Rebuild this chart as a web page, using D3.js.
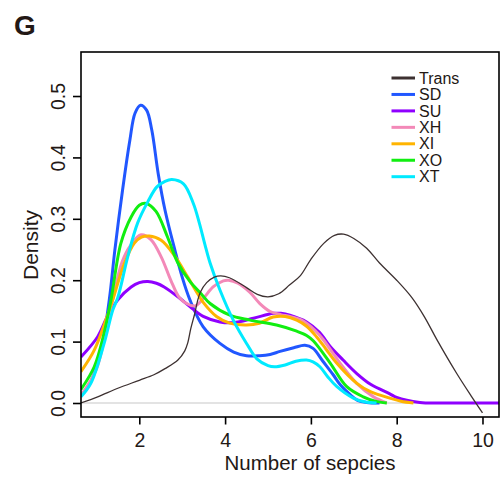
<!DOCTYPE html>
<html><head><meta charset="utf-8">
<script src="https://cdn.jsdelivr.net/npm/d3@7/dist/d3.min.js"></script>
<style>
html,body{margin:0;padding:0;background:#fff;}
svg{display:block;}
text{font-family:"Liberation Sans",Arial,sans-serif;fill:#231815;}
</style></head>
<body>
<script>
const seriesNames = ["Trans","SD","SU","XH","XI","XO","XT"];
const seriesColors = ["#3d3131","#2157ff","#8f00ff","#f389b8","#ffb400","#11ee11","#00eaff"];
const xTicks = [2,4,6,8,10];
const yTicks = [0.0,0.1,0.2,0.3,0.4,0.5];
const yTickLabels = ["0.0","0.1","0.2","0.3","0.4","0.5"];

const trans = [[0.64,0.0],[1.03,0.010],[1.5,0.024],[2.0,0.037],[2.34,0.046],[2.6,0.056],[2.9,0.070],[3.06,0.085],[3.13,0.098],[3.2,0.121],[3.29,0.145],[3.35,0.164],[3.42,0.180],[3.57,0.196],[3.75,0.205],[3.9,0.207],[4.1,0.204],[4.5,0.188],[4.75,0.177],[5.0,0.173],[5.25,0.178],[5.5,0.192],[5.75,0.207],[6.0,0.234],[6.3,0.260],[6.55,0.273],[6.76,0.275],[7.0,0.268],[7.3,0.252],[7.6,0.228],[8.0,0.200],[8.35,0.172],[8.65,0.140],[8.93,0.104],[9.4,0.048],[9.75,0.010],[10.0,-0.016]];
const sd = [[0.64,0.012],[0.87,0.035],[1.11,0.086],[1.30,0.168],[1.43,0.249],[1.61,0.347],[1.78,0.428],[1.90,0.472],[2.03,0.485],[2.17,0.477],[2.29,0.445],[2.44,0.374],[2.60,0.314],[2.83,0.249],[3.0,0.205],[3.18,0.168],[3.49,0.124],[3.88,0.097],[4.2,0.083],[4.5,0.077],[4.8,0.077],[5.05,0.079],[5.28,0.084],[5.6,0.090],[5.86,0.094],[6.05,0.089],[6.28,0.068],[6.52,0.046],[6.68,0.030],[6.91,0.014],[7.1,0.004],[7.3,0.001],[7.6,0.0]];
const su = [[0.64,0.075],[1.03,0.108],[1.25,0.140],[1.50,0.168],[1.81,0.189],[2.0,0.196],[2.20,0.198],[2.4,0.195],[2.58,0.189],[2.90,0.173],[3.18,0.157],[3.49,0.141],[3.88,0.132],[4.2,0.131],[4.66,0.138],[5.12,0.146],[5.3,0.146],[5.51,0.143],[5.90,0.132],[6.2,0.115],[6.45,0.092],[6.75,0.070],[7.07,0.048],[7.4,0.030],[7.84,0.015],[8.0,0.009],[8.54,0.001],[9.0,0.0],[10.5,0.0]];
const xh = [[0.64,0.012],[1.0,0.055],[1.2,0.110],[1.38,0.168],[1.6,0.230],[1.81,0.258],[2.04,0.274],[2.27,0.266],[2.51,0.238],[2.74,0.199],[2.93,0.172],[3.1,0.162],[3.3,0.158],[3.49,0.170],[3.72,0.189],[3.96,0.199],[4.08,0.200],[4.30,0.195],[4.58,0.180],[4.81,0.162],[5.05,0.149],[5.30,0.144],[5.51,0.141],[5.75,0.136],[5.90,0.130],[6.10,0.118],[6.29,0.103],[6.68,0.065],[7.07,0.032],[7.46,0.010],[7.77,0.0]];
const xi = [[0.64,0.051],[0.95,0.086],[1.22,0.135],[1.38,0.168],[1.65,0.227],[1.88,0.260],[2.05,0.270],[2.23,0.272],[2.51,0.265],[2.82,0.240],[3.13,0.205],[3.36,0.178],[3.49,0.164],[3.80,0.141],[4.11,0.130],[4.50,0.127],[4.8,0.130],[5.12,0.140],[5.40,0.141],[5.67,0.135],[5.90,0.125],[6.13,0.108],[6.35,0.088],[6.60,0.065],[7.07,0.032],[7.40,0.018],[7.84,0.008],[8.1,0.003],[8.39,0.0]];
const xo = [[0.64,0.022],[0.95,0.059],[1.18,0.114],[1.34,0.168],[1.57,0.260],[1.81,0.303],[2.0,0.322],[2.16,0.325],[2.39,0.312],[2.66,0.270],[2.90,0.228],[3.18,0.198],[3.44,0.178],[3.65,0.162],[4.11,0.143],[4.58,0.135],[5.20,0.127],[5.67,0.117],[5.9,0.110],[6.06,0.101],[6.45,0.065],[6.83,0.027],[7.22,0.010],[7.5,0.003],[7.77,0.0]];
const xt = [[0.64,0.010],[0.87,0.032],[1.18,0.097],[1.38,0.151],[1.50,0.172],[1.73,0.238],[1.96,0.293],[2.20,0.328],[2.41,0.352],[2.60,0.361],[2.76,0.364],[3.03,0.357],[3.26,0.325],[3.40,0.293],[3.53,0.258],[3.65,0.228],[3.88,0.184],[4.19,0.135],[4.50,0.097],[4.74,0.072],[5.0,0.061],[5.15,0.059],[5.40,0.062],[5.65,0.068],[5.90,0.070],[6.05,0.067],[6.21,0.059],[6.40,0.042],[6.60,0.027],[6.99,0.008],[7.25,0.002],[7.53,0.0]];

const seriesData = [trans, sd, su, xh, xi, xo, xt];

const W = 502, H = 483;
const L = 81, R = 499, T = 52, B = 417;
const svg = d3.select("body").append("svg").attr("width", W).attr("height", H);

const x = d3.scaleLinear().domain([0.641, 10.385]).range([L, R]);
const y = d3.scaleLinear().domain([-0.0228, 0.5717]).range([B, T]);

svg.append("defs").append("clipPath").attr("id","clip")
  .append("rect").attr("x", L).attr("y", T).attr("width", R-L).attr("height", B-T);

// zero line
svg.append("line").attr("x1", L).attr("x2", R).attr("y1", y(0)).attr("y2", y(0))
  .attr("stroke", "#c8c8c8").attr("stroke-width", 1.2);

const line = d3.line().x(d => x(d[0])).y(d => y(d[1])).curve(d3.curveCatmullRom.alpha(0.5));
const g = svg.append("g").attr("clip-path", "url(#clip)");
const order = [1,2,3,4,5,6,0];
order.forEach(i => {
  g.append("path").datum(seriesData[i]).attr("d", line)
    .attr("fill","none").attr("stroke", seriesColors[i])
    .attr("stroke-width", i===0 ? 1.3 : 3).attr("stroke-linejoin","round");
});

// box
svg.append("rect").attr("x", L).attr("y", T).attr("width", R-L).attr("height", B-T)
  .attr("fill","none").attr("stroke","#000").attr("stroke-width",1.6);

// x axis
const xAxis = d3.axisBottom(x).tickValues(xTicks).tickSize(7.5).tickPadding(9).tickFormat(d3.format("d"));
const gx = svg.append("g").attr("transform", `translate(0,${B})`).call(xAxis);
gx.select(".domain").remove();
gx.selectAll(".tick line").attr("stroke","#000").attr("stroke-width",1.6);
gx.selectAll(".tick text").attr("font-size", 19.5).attr("fill","#231815")
  .attr("font-family","Liberation Sans, Arial, sans-serif");

// y axis
const yAxis = d3.axisLeft(y).tickValues(yTicks).tickSize(8).tickFormat((d,i) => yTickLabels[i]);
const gy = svg.append("g").attr("transform", `translate(${L},0)`).call(yAxis);
gy.select(".domain").remove();
gy.selectAll(".tick line").attr("stroke","#000").attr("stroke-width",1.6);
gy.selectAll(".tick text").attr("font-size", 19.5).attr("fill","#231815")
  .attr("font-family","Liberation Sans, Arial, sans-serif")
  .attr("text-anchor","middle").attr("dy", 0).attr("x", 0)
  .attr("transform", "translate(-16,0) rotate(-90)");

// titles
svg.append("text").attr("x", 310).attr("y", 470).attr("text-anchor","middle")
  .attr("font-size", 20.5).text("Number of sepcies");
svg.append("text").attr("transform","translate(38,245) rotate(-90)").attr("text-anchor","middle")
  .attr("font-size", 21).text("Density");
svg.append("text").attr("x", 14).attr("y", 35).attr("font-size", 28).attr("font-weight","bold").text("G");

// legend
const legY0 = 78, legDy = 16.45;
seriesNames.forEach((n,i) => {
  const yy = legY0 + i*legDy;
  svg.append("line").attr("x1", 391.5).attr("x2", 415).attr("y1", yy).attr("y2", yy)
    .attr("stroke", seriesColors[i]).attr("stroke-width", 3);
  svg.append("text").attr("x", 419).attr("y", yy + 5.6).attr("font-size", 16).text(n);
});
</script>
</body></html>
